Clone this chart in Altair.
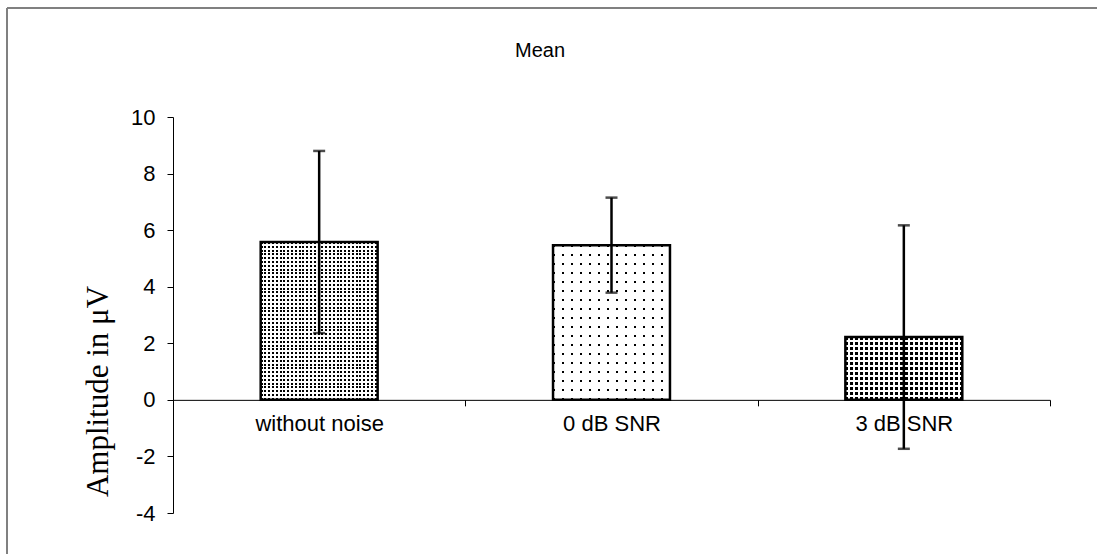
import altair as alt
import pandas as pd

# Mean amplitude per listening condition, with standard deviation
conditions = ["without noise", "0 dB SNR", "3 dB SNR"]
means = [5.58, 5.47, 2.22]
sds = [3.22, 1.68, 3.95]
y_ticks = [-4, -2, 0, 2, 4, 6, 8, 10]

df = pd.DataFrame({"condition": conditions, "mean": means, "sd": sds})
df["lo"] = df["mean"] - df["sd"]
df["hi"] = df["mean"] + df["sd"]

# canvas and plot-area geometry
FIG_W, FIG_H = 1097, 554
W, H = 877, 396
LEFT, TOP = 173, 117
Y_MIN, Y_MAX = -4, 10
PX_PER_UNIT = H / (Y_MAX - Y_MIN)
BAR_FRAC = 0.4
BAR_PX = W / len(conditions) * BAR_FRAC

SANS = "Liberation Sans"
SERIF = "Liberation Serif"


def stripes(length_px, period, dot, on, off, vertical):
    """Hard-stop linear gradient that repeats `dot` px of `on` every `period` px."""
    stops = []
    pos = 0.0
    while pos < length_px:
        a = pos / length_px
        b = min((pos + dot) / length_px, 1.0)
        stops += [{"offset": a, "color": on}, {"offset": b, "color": on},
                  {"offset": b, "color": off}]
        pos += period
        stops.append({"offset": min(pos / length_px, 1.0), "color": off})
    grad = {"gradient": "linear", "stops": stops}
    if vertical:
        grad.update(x1=0, y1=0, x2=0, y2=1)
    else:
        grad.update(x1=0, y1=0, x2=1, y2=0)
    return grad


# dot texture per bar: (row period, column period, dot size)
textures = {
    "without noise": (3.8, 3.8, 2.0),
    "0 dB SNR": (9.0, 9.0, 2.0),
    "3 dB SNR": (5.0, 5.0, 3.0),
}

x_enc = alt.X(
    "condition:N", sort=conditions,
    scale=alt.Scale(paddingInner=0, paddingOuter=0),
    axis=alt.Axis(title=None, labelAngle=0, offset=-(0 - Y_MIN) * PX_PER_UNIT,
                  tickBand="extent", tickSize=6, tickColor="black", domainColor="black",
                  labelFont=SANS, labelFontSize=22, labelColor="black", labelPadding=8),
)
y_scale = alt.Scale(domain=[Y_MIN, Y_MAX], nice=False, zero=False)
y_axis = alt.Axis(
    values=y_ticks, grid=False, tickSize=6, tickColor="black", domainColor="black",
    labelExpr="'' + datum.value",
    labelFont=SANS, labelFontSize=22, labelColor="black", labelPadding=12,
    title="Amplitude in μV", titleFont=SERIF, titleFontSize=31, titleFontWeight="normal",
    titleColor="black", titleAngle=270, titleAlign="center", titleBaseline="middle",
    titleX=-75, titleY=274,
)
y_enc = alt.Y("mean:Q", scale=y_scale, axis=y_axis)

base = alt.Chart(df)
one = alt.Chart(pd.DataFrame({"k": [0]}))
layers = []

# outer frame of the figure: top and left edges, running off the canvas
layers.append(
    one.mark_rule(color="#808080", strokeWidth=2).encode(
        x=alt.value(7 - LEFT), x2=alt.value(FIG_W - LEFT), y=alt.value(8 - TOP))
)
layers.append(
    one.mark_rule(color="#808080", strokeWidth=2).encode(
        x=alt.value(7 - LEFT), y=alt.value(8 - TOP), y2=alt.value(FIG_H - TOP))
)

# chart heading
layers.append(
    one.mark_text(text="Mean", font=SANS, fontSize=20, color="black",
                  align="center", baseline="alphabetic").encode(
        x=alt.value(540 - LEFT), y=alt.value(57 - TOP))
)

for cond, m in zip(conditions, means):
    py, px, d = textures[cond]
    h = m * PX_PER_UNIT
    sub = base.transform_filter(alt.datum.condition == cond)
    layers.append(
        sub.mark_bar(width=alt.RelativeBandSize(BAR_FRAC),
                     fill=stripes(h, py, d, "black", "white", True))
        .encode(x=x_enc, y=y_enc)
    )
    layers.append(
        sub.mark_bar(width=alt.RelativeBandSize(BAR_FRAC),
                     fill=stripes(BAR_PX, px, d, "rgba(255,255,255,0)", "white", False))
        .encode(x=x_enc, y=y_enc)
    )

outline = base.mark_bar(
    width=alt.RelativeBandSize(BAR_FRAC), fill="transparent", stroke="black", strokeWidth=2.5
).encode(x=x_enc, y=y_enc)

err = base.mark_rule(color="black", strokeWidth=2.5).encode(
    x=x_enc, y=alt.Y("lo:Q", scale=y_scale, axis=y_axis), y2="hi:Q"
)
cap_lo = base.mark_tick(orient="horizontal", size=12, thickness=2.5, color="black").encode(
    x=x_enc, y=alt.Y("lo:Q", scale=y_scale, axis=y_axis)
)
cap_hi = base.mark_tick(orient="horizontal", size=12, thickness=2.5, color="black").encode(
    x=x_enc, y=alt.Y("hi:Q", scale=y_scale, axis=y_axis)
)

chart = alt.layer(*layers, outline, err, cap_lo, cap_hi).properties(
    width=W, height=H,
    autosize=alt.AutoSizeParams(type="none"),
    padding={"left": LEFT, "top": TOP, "right": FIG_W - LEFT - W, "bottom": FIG_H - TOP - H},
    background="white",
).configure_view(strokeWidth=0)

chart.save("out.html", embed_options={"renderer": "svg", "actions": False})
